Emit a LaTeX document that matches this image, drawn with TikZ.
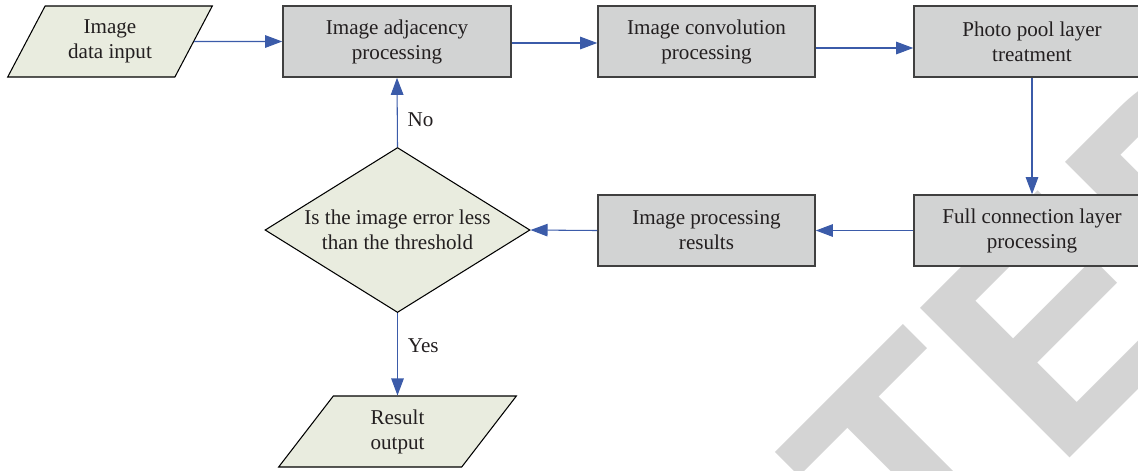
\documentclass[tikz,border=0pt]{standalone}
\usepackage{fontspec}
\setmainfont{Liberation Serif}
\newfontfamily\stampfont{Liberation Sans}
\usetikzlibrary{shapes.geometric,arrows.meta}

\definecolor{flowblue}{RGB}{59,91,169}
\definecolor{boxgray}{RGB}{210,211,211}
\definecolor{boxline}{RGB}{64,64,64}
\definecolor{iogreen}{RGB}{233,236,223}
\definecolor{stampgray}{RGB}{212,212,212}
\definecolor{textdark}{RGB}{35,31,32}

\begin{document}
\begin{tikzpicture}[
    process/.style={rectangle, draw=boxline, line width=0.9pt, fill=boxgray, minimum width=4.34cm, minimum height=1.42cm, align=center},
    io/.style={trapezium, trapezium left angle=63.4, trapezium right angle=116.6, trapezium stretches=true, draw=black, line width=0.6pt, fill=iogreen, minimum height=1.42cm, align=center},
    decision/.style={diamond, aspect=1.6, draw=black, line width=0.6pt, fill=iogreen, minimum width=5.3cm, minimum height=3.3cm, inner sep=0pt, align=center},
    arrow/.style={-{Triangle[length=0.34cm, width=0.25cm]}, draw=flowblue, line width=0.6pt},
    font=\fontsize{12}{14.2}\selectfont, text=textdark
]
    \useasboundingbox (0,0) rectangle (22.76,-9.4);

    % Watermark
    \begin{scope}
        \clip (0,0) rectangle (22.76,-9.4);
        \node[rotate=45, anchor=base west, inner sep=0pt, text=stampgray, font=\stampfont\bfseries\fontsize{175}{175}\selectfont] (stamp) at (0.32,-30.22) {RETRACTED};
    \end{scope}

    % Top row
    \node[io, minimum width=4.12cm] (input) at (2.2,-0.83) {Image\\data input};
    \node[process, minimum width=4.56cm] (adj) at (7.94,-0.83) {Image adjacency\\processing};
    \node[process] (conv) at (14.13,-0.83) {Image convolution\\processing};
    \node[process, minimum width=4.72cm] (pool) at (20.64,-0.83) {Photo pool layer\\treatment};

    % Middle row
    \node[process, minimum width=4.72cm] (full) at (20.64,-4.61) {Full connection layer\\processing};
    \node[process] (results) at (14.13,-4.61) {Image processing\\results};
    \node[decision] (check) at (7.95,-4.6) {Is the image error less\\than the threshold};

    % Output
    \node[io, minimum width=4.78cm] (output) at (7.95,-8.63) {Result\\output};

    % Arrows
    \draw[arrow] (input.east) -- (adj.west);
    \draw[arrow] ([yshift=-0.03cm]adj.east) -- ([yshift=-0.03cm]conv.west);
    \draw[arrow] ([yshift=-0.13cm]conv.east) -- ([yshift=-0.13cm]pool.west);
    \draw[arrow] (pool.south) -- (full.north);
    \draw[arrow] (full.west) -- (results.east);
    \draw[arrow] (results.west) -- (check.east);
    \draw[arrow] (check.north) -- node[pos=0.4, right, xshift=0.08cm] {No} (adj.south);
    \draw[arrow] (check.south) -- node[pos=0.4, right, xshift=0.08cm] {Yes} (check.south |- output.north);

\end{tikzpicture}
\end{document}
